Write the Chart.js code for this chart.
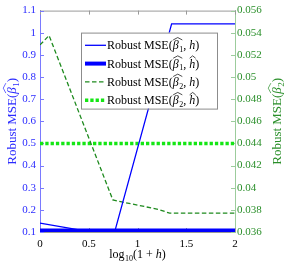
<!DOCTYPE html>
<html>
<head>
<meta charset="utf-8">
<script src="https://cdn.jsdelivr.net/npm/chart.js@4.4.0/dist/chart.umd.min.js"></script>
<style>
  html, body { margin: 0; padding: 0; background: #fff; }
</style>
</head>
<body>
<canvas id="grafico" width="293" height="266"></canvas>
<script>
//* Datos

const xBeta1 = [0, 0.43, 0.77, 1.35, 2];
const mseBeta1H = [0.14, 0.107, 0.107, 1.04, 1.04];
const xPlano = [0, 2];
const mseBeta1Hhat = [0.107, 0.107];
const xBeta2 = [0, 0.093, 0.747, 0.85, 1.02, 1.23, 1.33, 2];
const mseBeta2H = [0.0529, 0.05375, 0.0389, 0.03869, 0.0384, 0.038, 0.0377, 0.0377];
const mseBeta2Hhat = [0.044, 0.044];

const ticksX = [0, 0.5, 1, 1.5, 2];
const ticksIzq = [0.1, 0.2, 0.3, 0.4, 0.5, 0.6, 0.7, 0.8, 0.9, 1, 1.1];
const ticksDer = [0.036, 0.038, 0.04, 0.042, 0.044, 0.046, 0.048, 0.05, 0.052, 0.054, 0.056];

const fuente = '"Liberation Serif", "Times New Roman", serif';
const azul = '#0000ff';
const verdeOscuro = '#1e8a1e';
const verdeClaro = '#14e614';

// partes de texto para MSE(beta_k, h)
function partesMSE(k, hGorro) {
  return [
    { s: 'Robust MSE(' },
    { s: 'β', it: true, sub: String(k), hat: true },
    { s: ', ' },
    { s: 'h', it: true, hat: hGorro },
    { s: ')' }
  ];
}

function aPuntos(xs, ys) {
  return xs.map(function (x, i) { return { x: x, y: ys[i] }; });
}

// Dibuja texto con subindices y gorros
function textoRico(ctx, partes, x, y, size, align, color) {
  const tamSub = Math.round(size * 0.7);
  const medidas = partes.map(function (p) {
    ctx.font = (p.it ? 'italic ' : '') + size + 'px ' + fuente;
    const w = ctx.measureText(p.s).width;
    let ws = 0;
    if (p.sub) {
      ctx.font = tamSub + 'px ' + fuente;
      ws = ctx.measureText(p.sub).width + 0.5;
    }
    return { w: w, ws: ws };
  });
  const total = medidas.reduce(function (a, m) { return a + m.w + m.ws; }, 0);
  let cx = align === 'center' ? x - total / 2 : x;
  ctx.textAlign = 'left';
  ctx.textBaseline = 'alphabetic';
  ctx.fillStyle = color;
  ctx.strokeStyle = color;
  partes.forEach(function (p, i) {
    const m = medidas[i];
    ctx.font = (p.it ? 'italic ' : '') + size + 'px ' + fuente;
    ctx.fillText(p.s, cx, y);
    if (p.sub) {
      ctx.font = tamSub + 'px ' + fuente;
      ctx.fillText(p.sub, cx + m.w + 0.5, y + size * 0.22);
    }
    if (p.hat) {
      const ancho = m.w + m.ws * 0.7;
      const arriba = y - size * 0.98;
      ctx.beginPath();
      ctx.lineWidth = 0.7;
      ctx.moveTo(cx + 0.5, arriba + size * 0.2);
      ctx.lineTo(cx + 0.5 + ancho / 2, arriba);
      ctx.lineTo(cx + 0.5 + ancho, arriba + size * 0.2);
      ctx.stroke();
    }
    cx += m.w + m.ws;
  });
}

const estilosLeyenda = [
  { color: azul, ancho: 1.3, guion: [], partes: partesMSE(1, false) },
  { color: azul, ancho: 4, guion: [], partes: partesMSE(1, true) },
  { color: verdeOscuro, ancho: 1.3, guion: [4.5, 2.5], partes: partesMSE(2, false) },
  { color: verdeClaro, ancho: 3.5, guion: [3.3, 2], partes: partesMSE(2, true) }
];

// Plugin: marcas internas, bordes, titulos y leyenda
const adornos = {
  id: 'adornos',
  beforeDatasetsDraw: function (chart) {
    const ctx = chart.ctx;
    const a = chart.chartArea;
    const sx = chart.scales.x, sy = chart.scales.y, sy1 = chart.scales.y1;
    ctx.save();
    ctx.lineWidth = 1;
    // borde superior
    ctx.strokeStyle = '#9a9a9a';
    ctx.beginPath();
    ctx.moveTo(a.left, a.top + 0.5);
    ctx.lineTo(a.right, a.top + 0.5);
    ctx.stroke();
    // marcas x
    sx.ticks.forEach(function (t) {
      const px = Math.round(sx.getPixelForValue(t.value)) + 0.5;
      ctx.beginPath();
      ctx.moveTo(px, a.top); ctx.lineTo(px, a.top + 4);
      ctx.moveTo(px, a.bottom); ctx.lineTo(px, a.bottom - 4);
      ctx.stroke();
    });
    ctx.strokeStyle = '#7a7aff';
    sy.ticks.forEach(function (t) {
      const py = Math.round(sy.getPixelForValue(t.value)) + 0.5;
      ctx.beginPath();
      ctx.moveTo(a.left, py); ctx.lineTo(a.left + 4, py);
      ctx.stroke();
    });
    ctx.strokeStyle = '#9ccc9c';
    sy1.ticks.forEach(function (t) {
      const py = Math.round(sy1.getPixelForValue(t.value)) + 0.5;
      ctx.beginPath();
      ctx.moveTo(a.right, py); ctx.lineTo(a.right - 4, py);
      ctx.stroke();
    });
    ctx.restore();
  },
  afterDatasetsDraw: function (chart) {
    const ctx = chart.ctx;
    const a = chart.chartArea;
    ctx.save();
    // titulos de ejes
    const cy = (a.top + a.bottom) / 2;
    ctx.save();
    ctx.translate(12, cy);
    ctx.rotate(-Math.PI / 2);
    textoRico(ctx, [{ s: 'Robust MSE(' }, { s: 'β', it: true, sub: '1', hat: true }, { s: ')' }], 0, 4, 13, 'center', '#2b2bff');
    ctx.restore();
    ctx.save();
    ctx.translate(277, cy);
    ctx.rotate(-Math.PI / 2);
    textoRico(ctx, [{ s: 'Robust MSE(' }, { s: 'β', it: true, sub: '2', hat: true }, { s: ')' }], 0, 4, 13, 'center', '#2a8f2a');
    ctx.restore();
    textoRico(ctx, [{ s: 'log', sub: '10' }, { s: '(1 + ' }, { s: 'h', it: true }, { s: ')' }],
      (a.left + a.right) / 2, 258, 12, 'center', '#000');

    // leyenda
    const lx = a.left + 41, ly = a.top + 22, lw = 136, lh = 76;
    ctx.fillStyle = '#fff';
    ctx.fillRect(lx, ly, lw, lh);
    ctx.strokeStyle = '#8c8c8c';
    ctx.lineWidth = 1;
    ctx.strokeRect(lx + 0.5, ly + 0.5, lw, lh);
    estilosLeyenda.forEach(function (e, i) {
      const fy = ly + 12.7 + i * 18.3;
      ctx.beginPath();
      ctx.setLineDash(e.guion);
      ctx.lineWidth = e.ancho;
      ctx.strokeStyle = e.color;
      ctx.moveTo(lx + 4, fy);
      ctx.lineTo(lx + 25, fy);
      ctx.stroke();
      ctx.setLineDash([]);
      textoRico(ctx, e.partes, lx + 26, fy + 4, 12, 'left', '#000');
    });
    ctx.restore();
  }
};

function formato(v) { return String(v); }

const ctx = document.getElementById('grafico').getContext('2d');

new Chart(ctx, {
  type: 'line',
  data: {
    datasets: [
      { data: aPuntos(xBeta1, mseBeta1H), yAxisID: 'y', borderColor: azul, borderWidth: 1.3 },
      { data: aPuntos(xPlano, mseBeta1Hhat), yAxisID: 'y', borderColor: azul, borderWidth: 4 },
      { data: aPuntos(xBeta2, mseBeta2H), yAxisID: 'y1', borderColor: verdeOscuro, borderWidth: 1.3, borderDash: [4.5, 2.5] },
      { data: aPuntos(xPlano, mseBeta2Hhat), yAxisID: 'y1', borderColor: verdeClaro, borderWidth: 3.5, borderDash: [3.3, 2] }
    ]
  },
  options: {
    responsive: false,
    animation: false,
    devicePixelRatio: 1,
    elements: { point: { radius: 0 }, line: { tension: 0, borderCapStyle: 'butt' } },
    layout: { padding: { top: 7 } },
    plugins: { legend: { display: false }, tooltip: { enabled: false } },
    scales: {
      x: {
        type: 'linear', min: 0, max: 2,
        afterBuildTicks: function (s) { s.ticks = ticksX.map(function (v) { return { value: v }; }); },
        afterFit: function (s) { s.height = 34; },
        grid: { drawOnChartArea: false, drawTicks: false },
        border: { color: '#9a9a9a' },
        ticks: { color: '#000', padding: 6, maxRotation: 0, font: { family: fuente, size: 11 }, callback: formato }
      },
      y: {
        position: 'left', min: 0.1, max: 1.1,
        afterBuildTicks: function (s) { s.ticks = ticksIzq.map(function (v) { return { value: v }; }); },
        afterFit: function (s) { s.width = 40; },
        grid: { drawOnChartArea: false, drawTicks: false },
        border: { color: '#7a7aff' },
        ticks: { color: '#2b2bff', padding: 4, font: { family: fuente, size: 11 }, callback: formato }
      },
      y1: {
        position: 'right', min: 0.036, max: 0.056,
        afterBuildTicks: function (s) { s.ticks = ticksDer.map(function (v) { return { value: v }; }); },
        afterFit: function (s) { s.width = 58; },
        grid: { drawOnChartArea: false, drawTicks: false },
        border: { color: '#9ccc9c' },
        ticks: { color: '#2a8f2a', padding: 2, font: { family: fuente, size: 11 }, callback: formato }
      }
    }
  },
  plugins: [adornos]
});
</script>
</body>
</html>
